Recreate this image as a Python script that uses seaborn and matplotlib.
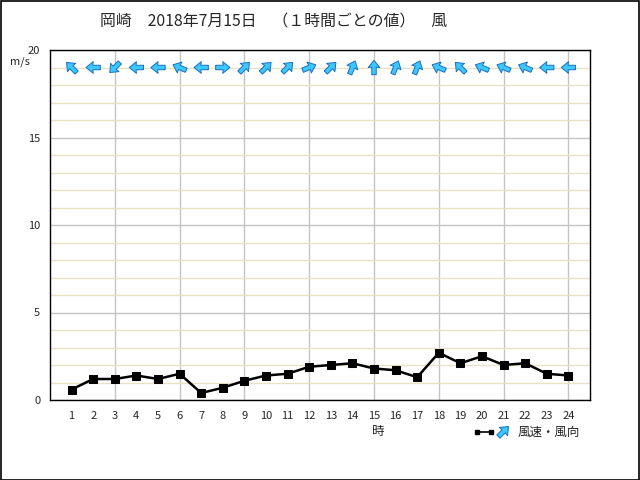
import matplotlib
matplotlib.use('Agg')
import matplotlib.pyplot as plt
import seaborn as sns
import numpy as np
import pandas as pd
from matplotlib.lines import Line2D
from matplotlib.patches import Rectangle

# hourly wind data, Okazaki 2018-07-15
hours = list(range(1, 25))
speed = [0.6, 1.2, 1.2, 1.4, 1.2, 1.5, 0.4, 0.7, 1.1, 1.4, 1.5, 1.9,
         2.0, 2.1, 1.8, 1.7, 1.3, 2.7, 2.1, 2.5, 2.0, 2.1, 1.5, 1.4]
# direction the arrow points (degrees, 0 = right, 90 = up)
arrow_deg = [135, 180, 225, 180, 180, 157.5, 180, 0, 45, 45, 45, 22.5,
             45, 67.5, 90, 67.5, 67.5, 157.5, 135, 157.5, 157.5, 157.5, 180, 180]
arrow_row = 19

df = pd.DataFrame({'hour': hours, 'speed': speed})

sns.set_style('white')
plt.rcParams['font.family'] = ['Noto Sans CJK JP', 'DejaVu Sans']

fig = plt.figure(figsize=(6.4, 4.8), dpi=100)
ax = fig.add_axes([50 / 640, 1 - 400 / 480, 540 / 640, 350 / 480])

# grid
ax.xaxis.remove_overlapping_locs = False
ax.set_xlim(0, 25)
ax.set_ylim(0, 20)
ax.set_xticks(hours)
ax.set_xticks(range(3, 25, 3), minor=True)
ax.set_yticks([0, 5, 10, 15, 20])
ax.set_yticks(range(0, 21), minor=True)
ax.grid(False)
ax.grid(True, which='minor', axis='y', color='#e8e1c4', linewidth=1)
ax.grid(True, which='major', axis='y', color='#c4c4c4', linewidth=1)
ax.grid(True, which='minor', axis='x', color='#c4c4c4', linewidth=1)
ax.set_axisbelow(True)
ax.tick_params(which='both', length=0)
ax.tick_params(axis='x', pad=8, labelsize=8)
ax.tick_params(axis='y', pad=7, labelsize=8)
for s in ax.spines.values():
    s.set_color('black')
    s.set_linewidth(1)

sns.lineplot(data=df, x='hour', y='speed', color='black', linewidth=1.8,
             marker='s', markersize=5.5, markeredgecolor='black', ax=ax)
ax.set_xlabel('')
ax.set_ylabel('')

# wind direction arrows
rad = np.deg2rad(arrow_deg)
q = ax.quiver(hours, [arrow_row] * len(hours), np.cos(rad), np.sin(rad),
              angles='uv', pivot='middle', scale_units='inches', scale=7.0,
              units='inches', width=0.045, headwidth=2.6, headlength=1.6,
              headaxislength=1.5, color='#3cc8ff', edgecolor='#1a6fc0',
              linewidth=0.7, zorder=5)

# texts
fig.text(100 / 640, 1 - 22 / 480, '岡崎　2018年7月15日　（１時間ごとの値）　風',
         fontsize=11.4, ha='left', va='center')
fig.text(10 / 640, 1 - 62 / 480, 'm/s', fontsize=8, ha='left', va='center')
fig.text(378 / 640, 1 - 432 / 480, '時', fontsize=9, ha='center', va='center')

# legend
ly = 1 - 432 / 480
fig.add_artist(Line2D([477 / 640, 491 / 640], [ly, ly], color='black',
                      linewidth=1.2, marker='s', markersize=2.5,
                      transform=fig.transFigure))
ax.quiverkey(q, 508 / 640, 1 - 426 / 480, 1, '', angle=45,
             coordinates='figure', labelpos='E')
fig.text(518 / 640, ly, '風速・風向', fontsize=9, ha='left', va='center')

# frame around the figure
fig.add_artist(Rectangle((0.001, 0.001), 0.997, 0.997, fill=False,
                         edgecolor='black', linewidth=1.2,
                         transform=fig.transFigure))

fig.savefig('out.png', dpi=100)
